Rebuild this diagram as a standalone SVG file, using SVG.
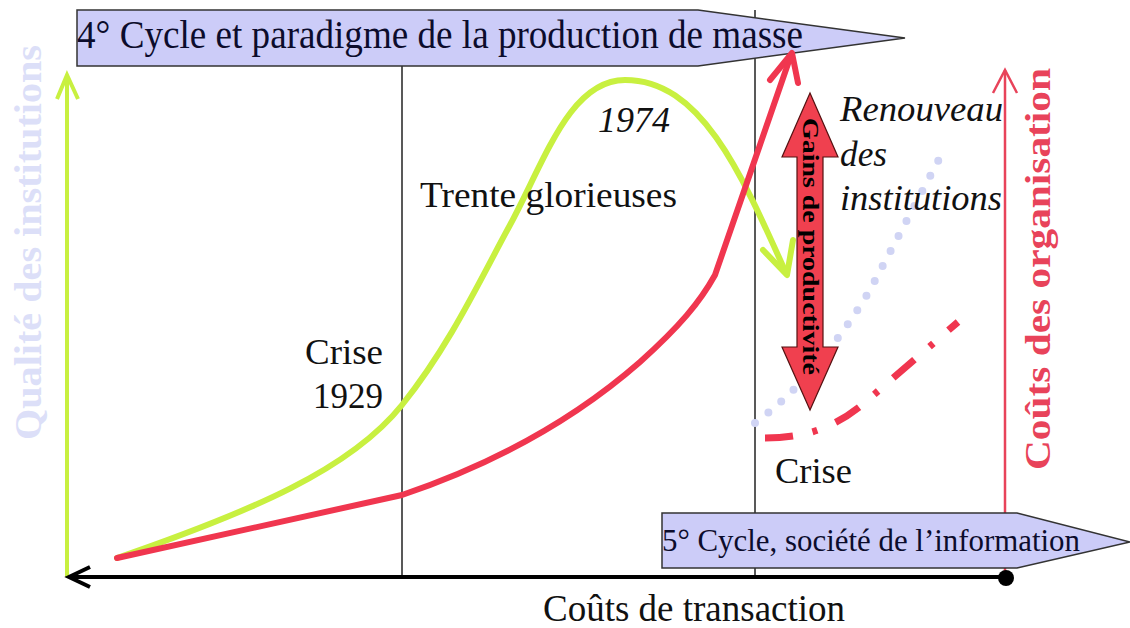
<svg xmlns="http://www.w3.org/2000/svg" width="1130" height="628" viewBox="0 0 1130 628">
<style>
.serif{font-family:"Liberation Serif","Times New Roman",serif;}
.lbl{font-family:"Liberation Serif","Times New Roman",serif;font-size:35px;fill:#111;}
.it{font-style:italic;}
.banner{fill:#ccccf8;stroke:#333;stroke-width:1.5;}
.btxt{font-family:"Liberation Serif","Times New Roman",serif;fill:#0c0c2c;}
.grid{stroke:#222;stroke-width:1.5;fill:none;}
</style>
<rect width="1130" height="628" fill="#fff"/>

<g id="axes">
  <line class="grid" x1="402" y1="66" x2="402" y2="577"/>
  <line class="grid" x1="755" y1="10" x2="755" y2="577"/>
  <line x1="67" y1="75" x2="67" y2="577" stroke="#c8f040" stroke-width="4"/>
  <polyline points="57,99 67,75 78,99" fill="none" stroke="#c8f040" stroke-width="4"/>
  <line x1="1005" y1="70" x2="1005" y2="578" stroke="#e8435a" stroke-width="2.5"/>
  <polyline points="993,93 1005,70 1017,93" fill="none" stroke="#e8435a" stroke-width="2.5"/>
  <line x1="69" y1="577" x2="1005" y2="577" stroke="#000" stroke-width="4"/>
  <polyline points="90,567 69,577 90,587" fill="none" stroke="#000" stroke-width="4"/>
  <circle cx="1006" cy="578" r="8" fill="#000"/>
</g>

<g id="axis-labels">
  <text class="serif" transform="translate(41,440) rotate(-90)" font-size="38" font-weight="bold" fill="#dcdff8" textLength="395" lengthAdjust="spacingAndGlyphs">Qualité des institutions</text>
  <text class="serif" transform="translate(1050,470) rotate(-90)" font-size="36" font-weight="bold" fill="#e8435a" textLength="402" lengthAdjust="spacingAndGlyphs">Coûts des organisation</text>
  <text class="serif" x="543" y="621" font-size="37" fill="#111" textLength="302" lengthAdjust="spacingAndGlyphs">Coûts de transaction</text>
</g>

<g id="banner-4">
  <polygon class="banner" points="77,10 698,10 905,38 698,66 77,66"/>
  <text class="btxt" x="77" y="48" font-size="40" textLength="726" lengthAdjust="spacingAndGlyphs">4° Cycle et paradigme de la production de masse</text>
</g>

<g id="connectors">
  <path d="M117,558 C250,512 350,470 402,405 C450,345 480,280 510,225 C545,160 570,80 625,80 C700,80 740,170 786,273" fill="none" stroke="#c8f040" stroke-width="6" stroke-linecap="round"/>
  <polyline points="763,250 787,275 793,240" fill="none" stroke="#c8f040" stroke-width="6" stroke-linecap="round" stroke-linejoin="round"/>
  <path d="M117,558 L402,495 C470,472 560,432 640,362 C680,326 700,302 715,275 L790,58" fill="none" stroke="#f0364f" stroke-width="6" stroke-linecap="round" stroke-linejoin="round"/>
  <polyline points="770,80 792,53 798,83" fill="none" stroke="#f0364f" stroke-width="6" stroke-linecap="round" stroke-linejoin="round"/>
  <path d="M755,423 C800,390 840,340 870,290 L945,148" fill="none" stroke="#d0d4f4" stroke-width="8" stroke-linecap="round" stroke-dasharray="0 17"/>
  <path d="M765,438 C810,438 840,425 870,398 L958,322" fill="none" stroke="#f0364f" stroke-width="7" stroke-dasharray="28 20 5 20"/>
</g>

<g id="gains">
  <polygon points="810,93 838,157 823,157 823,347 838,347 810,410 782,347 797,347 797,157 782,157" fill="#f0404f" stroke="#551111" stroke-width="1.2"/>
  <text class="serif" transform="translate(803,118) rotate(90)" font-size="24" font-weight="bold" fill="#000" textLength="257" lengthAdjust="spacingAndGlyphs">Gains de productivité</text>
</g>

<g id="labels">
  <text class="lbl it" x="598" y="132" textLength="72" lengthAdjust="spacingAndGlyphs">1974</text>
  <text class="lbl" x="420" y="207" textLength="257" lengthAdjust="spacingAndGlyphs">Trente glorieuses</text>
  <text class="lbl" x="305" y="364" textLength="78" lengthAdjust="spacingAndGlyphs">Crise</text>
  <text class="lbl" x="313" y="408" textLength="70" lengthAdjust="spacingAndGlyphs">1929</text>
  <text class="lbl" x="775" y="483" textLength="77" lengthAdjust="spacingAndGlyphs">Crise</text>
  <text class="lbl it" x="840" y="121" textLength="163" lengthAdjust="spacingAndGlyphs">Renouveau</text>
  <text class="lbl it" x="840" y="166" textLength="47" lengthAdjust="spacingAndGlyphs">des</text>
  <text class="lbl it" x="840" y="210" textLength="162" lengthAdjust="spacingAndGlyphs">institutions</text>
</g>

<g id="banner-5">
  <polygon class="banner" points="662,513 1017,513 1130,542 1017,568 662,568"/>
  <text class="btxt" x="662" y="551" font-size="31" textLength="418" lengthAdjust="spacingAndGlyphs">5° Cycle, société de l’information</text>
</g>
</svg>
